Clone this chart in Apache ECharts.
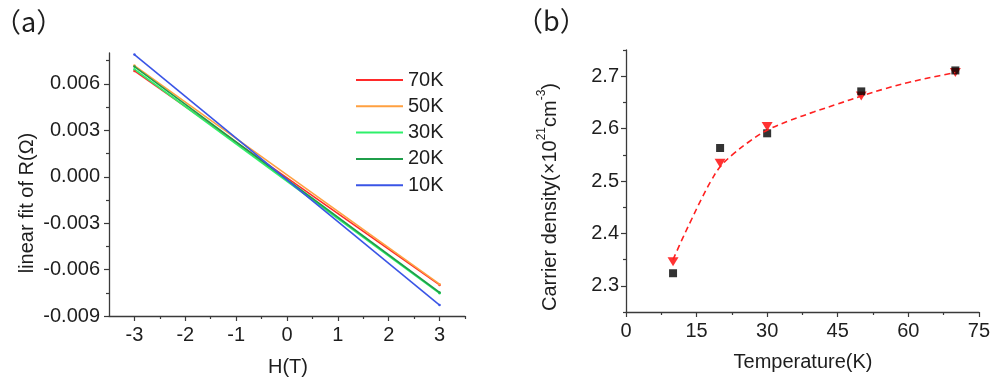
<!DOCTYPE html>
<html>
<head>
<meta charset="utf-8">
<script src="https://cdn.jsdelivr.net/npm/echarts@6/dist/echarts.min.js"></script>
<style>
html,body{margin:0;padding:0;background:#fff;}
#chart{width:993px;height:378px;}
</style>
</head>
<body>
<div id="chart"></div>
<script>
// ---- Panel (a) data: linear fits of R vs H ----
const fieldRange = [-3, 3];
const seriesNames = ['70K', '50K', '30K', '20K', '10K'];
const seriesColors = ['#ff2a2a', '#ffa040', '#2ef06a', '#1f9e4a', '#3a55e6'];
const fit70K = [0.00684, -0.00699];
const fit50K = [0.00719, -0.00694];
const fit30K = [0.00695, -0.00753];
const fit20K = [0.00712, -0.00748];
const fit10K = [0.00790, -0.00829];
const aYTicks = [-0.009, -0.006, -0.003, 0, 0.003, 0.006];
const aYMinor = [-0.0075, -0.0045, -0.0015, 0.0015, 0.0045, 0.0075];
const aXTicks = [-3, -2, -1, 0, 1, 2, 3];
const aXMinor = [-2.5, -1.5, -0.5, 0.5, 1.5, 2.5, 3.5];

// ---- Panel (b) data: carrier density vs temperature ----
const tempK = [10, 20, 30, 50, 70];
const densitySquares = [2.324, 2.563, 2.591, 2.671, 2.711];
const densityTriangles = [2.346, 2.534, 2.604, 2.662, 2.707];
const fitT = [10, 12, 14, 16, 18, 20, 23, 26, 30, 35, 40, 45, 50, 55, 60, 65, 70];
const fitN = [2.350, 2.390, 2.428, 2.465, 2.499, 2.527, 2.553, 2.574, 2.597, 2.616, 2.632, 2.647, 2.662, 2.676, 2.688, 2.698, 2.707];
const bYTicks = [2.3, 2.4, 2.5, 2.6, 2.7];
const bYMinor = [2.25, 2.35, 2.45, 2.55, 2.65, 2.75];
const bXTicks = [0, 15, 30, 45, 60, 75];
const bXMinor = [7.5, 22.5, 37.5, 52.5, 67.5];

const FONT = "'Liberation Sans', Arial, sans-serif";
const TXT = '#1e1e1e';
const AX = '#3a3a3a';

const fits = [fit70K, fit50K, fit30K, fit20K, fit10K];

function mainAxis(gridIndex, min, max, ticks, fmt, position, margin) {
  return {
    type: 'value', gridIndex, min, max, position,
    axisLine: {show: true, onZero: false, lineStyle: {color: AX, width: 1.3}},
    axisTick: {show: true, length: 5, customValues: ticks, lineStyle: {color: AX, width: 1.2}},
    axisLabel: {show: true, customValues: ticks, formatter: fmt, color: TXT, fontFamily: FONT, fontSize: 20, margin},
    splitLine: {show: false}
  };
}
function minorAxis(gridIndex, min, max, ticks, position) {
  return {
    type: 'value', gridIndex, min, max, position, offset: 0,
    axisLine: {show: false, onZero: false},
    axisTick: {show: true, length: 3, customValues: ticks, lineStyle: {color: AX, width: 1.2}},
    axisLabel: {show: false},
    splitLine: {show: false}
  };
}

const option = {
  animation: false,
  backgroundColor: '#fff',
  grid: [
    {left: 109, top: 53, right: 528, bottom: 62},
    {left: 626, top: 50, right: 12, bottom: 66}
  ],
  xAxis: [
    mainAxis(0, -3.5, 3.5, aXTicks, v => String(Math.round(v)), 'bottom', 9),
    minorAxis(0, -3.5, 3.5, aXMinor, 'bottom'),
    mainAxis(1, 0, 75, bXTicks, v => String(Math.round(v)), 'bottom', 9),
    minorAxis(1, 0, 75, bXMinor, 'bottom')
  ],
  yAxis: [
    mainAxis(0, -0.009, 0.008, aYTicks, v => (Math.abs(v) < 1e-9 ? 0 : v).toFixed(3), 'left', 9),
    minorAxis(0, -0.009, 0.008, aYMinor, 'left'),
    mainAxis(1, 2.25, 2.75, bYTicks, v => v.toFixed(1), 'left', 7),
    minorAxis(1, 2.25, 2.75, bYMinor, 'left')
  ],
  legend: {
    orient: 'vertical', left: 356, top: 70, padding: 0,
    itemWidth: 47, itemHeight: 2, itemGap: 6.3, icon: 'rect',
    textStyle: {color: TXT, fontFamily: FONT, fontSize: 20, lineHeight: 20},
    data: seriesNames
  },
  series: seriesNames.map((name, i) => ({
    name, type: 'line', xAxisIndex: 0, yAxisIndex: 0,
    data: [[fieldRange[0], fits[i][0]], [fieldRange[1], fits[i][1]]],
    color: seriesColors[i],
    symbol: 'circle', symbolSize: 2.5, showSymbol: true,
    lineStyle: {width: 1.6, color: seriesColors[i]},
    itemStyle: {color: seriesColors[i]}
  })).concat([
    {
      name: 'fit', type: 'line', xAxisIndex: 2, yAxisIndex: 2,
      data: fitT.map((t, i) => [t, fitN[i]]),
      smooth: 0.4, symbol: 'none',
      lineStyle: {color: '#ff2020', width: 1.6, type: [6, 4]}
    },
    {
      name: 'tri', type: 'scatter', xAxisIndex: 2, yAxisIndex: 2,
      data: tempK.map((t, i) => [t, densityTriangles[i]]),
      symbol: 'triangle', symbolRotate: 180, symbolSize: [11, 9],
      itemStyle: {color: '#ff0000'}
    },
    {
      name: 'sq', type: 'scatter', xAxisIndex: 2, yAxisIndex: 2,
      data: tempK.map((t, i) => [t, densitySquares[i]]),
      symbol: 'rect', symbolSize: 8,
      itemStyle: {color: '#000000'}
    }
  ]),
  graphic: [
    {type: 'text', left: -6, top: 8, style: {text: '（a）', font: "27px 'Noto Sans CJK SC', sans-serif", fill: TXT}},
    {type: 'text', left: 516, top: 7, style: {text: '（b）', font: "27px 'Noto Sans CJK SC', sans-serif", fill: TXT}},
    {type: 'text', x: 27, y: 203, rotation: Math.PI / 2,
     style: {text: 'linear fit of R(Ω)', font: "20px " + FONT, fill: TXT, align: 'center', verticalAlign: 'middle', textAlign: 'center', textVerticalAlign: 'middle'}},
    {type: 'text', x: 288, y: 367,
     style: {text: 'H(T)', font: "20px " + FONT, fill: TXT, align: 'center', verticalAlign: 'middle', textAlign: 'center', textVerticalAlign: 'middle'}},
    {type: 'text', x: 803, y: 362,
     style: {text: 'Temperature(K)', font: "20px " + FONT, fill: TXT, align: 'center', verticalAlign: 'middle', textAlign: 'center', textVerticalAlign: 'middle'}},
    {type: 'text', x: 548, y: 197, rotation: Math.PI / 2,
     style: {
       text: '{a|Carrier density(×10}{s|21}{a|cm}{s|-3}{a|)}',
       align: 'center', verticalAlign: 'middle', textAlign: 'center', textVerticalAlign: 'middle',
       rich: {
         a: {fontFamily: FONT, fontSize: 20, lineHeight: 24, fill: TXT, color: TXT, verticalAlign: 'bottom'},
         s: {fontFamily: FONT, fontSize: 12, lineHeight: 12, fill: TXT, color: TXT, verticalAlign: 'top'}
       }
     }}
  ]
};

const chart = echarts.init(document.getElementById('chart'), null, {renderer: 'canvas'});
chart.setOption(option);
</script>
</body>
</html>
